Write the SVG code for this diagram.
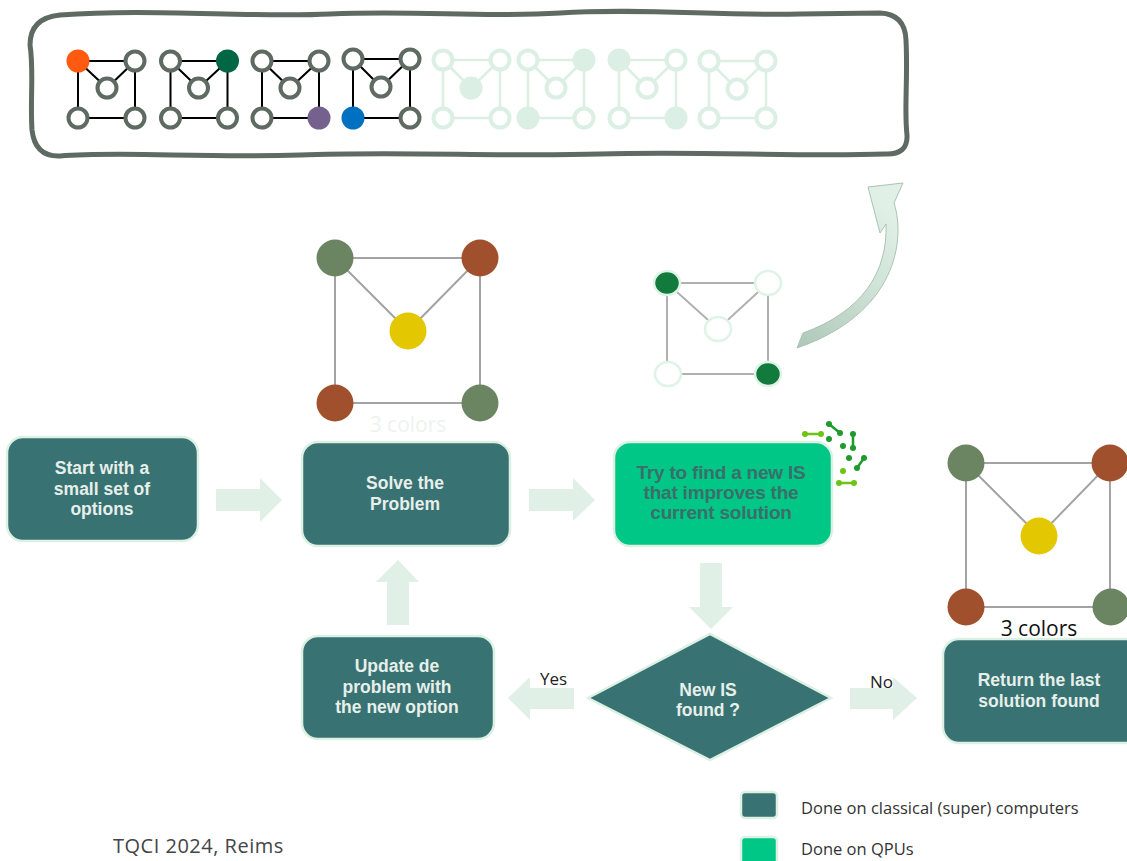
<svg xmlns="http://www.w3.org/2000/svg" width="1127" height="861" viewBox="0 0 1127 861">
<defs>
<style>
.box{fill:#387272;stroke:#dcf1e4;stroke-width:2.5}
.qbox{fill:#00c785;stroke:#dcf1e4;stroke-width:2.5}
.btxt{font-family:"Liberation Sans",Arial,sans-serif;font-weight:bold;font-size:17.5px;fill:#e6efea;text-anchor:middle}
.qtxt{font-family:"Liberation Sans",Arial,sans-serif;font-weight:bold;font-size:19px;fill:#3a6f6c;text-anchor:middle;letter-spacing:-0.2px}
.lbl{font-family:"Open Sans","Liberation Sans",sans-serif;font-size:17px;fill:#222}
.leg{font-family:"Open Sans","Liberation Sans",sans-serif;font-size:16.5px;fill:#333}
.barrow{fill:#e0f0e7}
.se{stroke:#000;stroke-width:2;fill:none}
.sn{fill:#fff;stroke:#5e6a62;stroke-width:4}
.fe{stroke:#dcefe4;stroke-width:2.5;fill:none}
.fn{fill:#fff;stroke:#dcefe4;stroke-width:4}
.ff{fill:#dcefe4;stroke:#dcefe4;stroke-width:4}
.be{stroke:#a3a3a3;stroke-width:2;fill:none}
.gr{fill:#6b8462}
.br{fill:#a0502c}
.ye{fill:#e3c700}
.qe{stroke:#b0b0b0;stroke-width:2;fill:none}
.qw{fill:#fff;stroke:#dff3e7;stroke-width:2.5}
.qg{fill:#127a3c;stroke:#dff3e7;stroke-width:2.5}
.ic1{stroke:#6cc417;stroke-width:2.5;fill:none}
.ic2{stroke:#1e9a2e;stroke-width:2.5;fill:none}
.d1{fill:#6cc417}
.d2{fill:#1e9a2e}
</style>
<linearGradient id="cg" x1="0" y1="1" x2="0.6" y2="0">
<stop offset="0" stop-color="#aec7b8"/>
<stop offset="0.6" stop-color="#cfe3d6"/>
<stop offset="1" stop-color="#e0f0e6"/>
</linearGradient>
</defs>

<g id="banner">
<path d="M60,15 C150,8 250,18 330,14 C420,10 480,18 560,13 C640,8 720,16 800,14 L880,13 Q905,14 906,40 C908,80 904,110 907,135 Q908,155 885,154 C800,157 700,151 600,154 C500,157 400,151 300,155 C200,158 120,151 60,156 Q35,157 32,130 C30,100 34,70 30,45 Q30,18 60,15 Z" fill="#fff" stroke="#5e6a62" stroke-width="5"/>
</g>

<g id="mini-graph-1" transform="translate(78,61)">
<path class="se" d="M0,0 H57 V57 H0 Z M0,0 L29,27 L57,0"/>
<circle cx="0" cy="0" r="11.5" fill="#ff5a0f"/>
<circle class="sn" cx="57" cy="0" r="9.5"/>
<circle class="sn" cx="29" cy="27" r="9.5"/>
<circle class="sn" cx="0" cy="57" r="9.5"/>
<circle class="sn" cx="57" cy="57" r="9.5"/>
</g>
<g id="mini-graph-2" transform="translate(170.5,61)">
<path class="se" d="M0,0 H57 V57 H0 Z M0,0 L28,27 L57,0"/>
<circle class="sn" cx="0" cy="0" r="9.5"/>
<circle cx="57" cy="0" r="11.5" fill="#006643"/>
<circle class="sn" cx="28" cy="27" r="9.5"/>
<circle class="sn" cx="0" cy="57" r="9.5"/>
<circle class="sn" cx="57" cy="57" r="9.5"/>
</g>
<g id="mini-graph-3" transform="translate(262,61)">
<path class="se" d="M0,0 H57 V57 H0 Z M0,0 L28,27 L57,0"/>
<circle class="sn" cx="0" cy="0" r="9.5"/>
<circle class="sn" cx="57" cy="0" r="9.5"/>
<circle class="sn" cx="28" cy="27" r="9.5"/>
<circle class="sn" cx="0" cy="57" r="9.5"/>
<circle cx="57" cy="57" r="11.5" fill="#74618e"/>
</g>
<g id="mini-graph-4" transform="translate(353,59)">
<path class="se" d="M0,0 H57 V59 H0 Z M0,0 L28,28 L57,0"/>
<circle class="sn" cx="0" cy="0" r="9.5"/>
<circle class="sn" cx="57" cy="0" r="9.5"/>
<circle class="sn" cx="28" cy="28" r="9.5"/>
<circle cx="0" cy="59" r="11.5" fill="#0070c0"/>
<circle class="sn" cx="57" cy="59" r="9.5"/>
</g>
<g id="mini-graph-5" transform="translate(443,60)">
<path class="fe" d="M0,0 H57 V58 H0 Z M0,0 L28,28 L57,0"/>
<circle class="fn" cx="0" cy="0" r="9.5"/>
<circle class="fn" cx="57" cy="0" r="9.5"/>
<circle class="ff" cx="28" cy="28" r="9.5"/>
<circle class="fn" cx="0" cy="58" r="9.5"/>
<circle class="fn" cx="57" cy="58" r="9.5"/>
</g>
<g id="mini-graph-6" transform="translate(528,60)">
<path class="fe" d="M0,0 H56 V58 H0 Z M0,0 L28,28 L56,0"/>
<circle class="fn" cx="0" cy="0" r="9.5"/>
<circle class="ff" cx="56" cy="0" r="9.5"/>
<circle class="fn" cx="28" cy="28" r="9.5"/>
<circle class="ff" cx="0" cy="58" r="9.5"/>
<circle class="fn" cx="56" cy="58" r="9.5"/>
</g>
<g id="mini-graph-7" transform="translate(619,60)">
<path class="fe" d="M0,0 H57 V58 H0 Z M0,0 L28,28 L57,0"/>
<circle class="ff" cx="0" cy="0" r="9.5"/>
<circle class="fn" cx="57" cy="0" r="9.5"/>
<circle class="fn" cx="28" cy="28" r="9.5"/>
<circle class="fn" cx="0" cy="58" r="9.5"/>
<circle class="ff" cx="57" cy="58" r="9.5"/>
</g>
<g id="mini-graph-8" transform="translate(709,61)">
<path class="fe" d="M0,0 H57 V57 H0 Z M0,0 L28,28 L57,0"/>
<circle class="fn" cx="0" cy="0" r="9.5"/>
<circle class="fn" cx="57" cy="0" r="9.5"/>
<circle class="fn" cx="28" cy="28" r="9.5"/>
<circle class="fn" cx="0" cy="57" r="9.5"/>
<circle class="fn" cx="57" cy="57" r="9.5"/>
</g>

<g id="graph-solve">
<path class="be" d="M335,258 H480 V403 H335 Z M335,258 L408,331 L480,258"/>
<circle class="gr" cx="335" cy="258" r="18.5"/>
<circle class="br" cx="480" cy="258" r="18.5"/>
<circle class="ye" cx="408" cy="331" r="18.5"/>
<circle class="br" cx="335" cy="403" r="18.5"/>
<circle class="gr" cx="480" cy="403" r="18.5"/>
<text x="408" y="432" font-family="'Open Sans','Liberation Sans',sans-serif" font-size="21" fill="#eef2ef" text-anchor="middle">3 colors</text>
</g>

<g id="graph-qpu">
<path class="qe" d="M667,283 H768 V374 H667 Z M667,283 L718,329 L768,283"/>
<ellipse class="qg" cx="667" cy="283" rx="13" ry="12"/>
<ellipse class="qw" cx="768" cy="283" rx="13" ry="12"/>
<ellipse class="qw" cx="718" cy="329" rx="13" ry="12"/>
<ellipse class="qw" cx="668" cy="374" rx="13" ry="12"/>
<ellipse class="qg" cx="768" cy="374" rx="13" ry="12"/>
</g>

<g id="graph-final">
<path class="be" d="M966,463 H1110 V607 H966 Z M966,463 L1039,536 L1110,463"/>
<circle class="gr" cx="966" cy="463" r="18.5"/>
<circle class="br" cx="1110" cy="463" r="18.5"/>
<circle class="ye" cx="1039" cy="536" r="18.5"/>
<circle class="br" cx="966" cy="607" r="18.5"/>
<circle class="gr" cx="1111" cy="607" r="18.5"/>
<text x="1039" y="636" font-family="'Open Sans','Liberation Sans',sans-serif" font-size="21" fill="#111" text-anchor="middle">3 colors</text>
</g>

<g id="connectors">
<polygon class="barrow" points="216,489 260,489 260,478 282,500 260,522 260,511 216,511"/>
<polygon class="barrow" points="529,489 573,489 573,478 595,500 573,521 573,511 529,511"/>
<polygon class="barrow" points="700,563 722,563 722,607 733,607 711,629 689,607 700,607"/>
<polygon class="barrow" points="574,688 530,688 530,677 508,698 530,720 530,709 574,709"/>
<polygon class="barrow" points="850,688 893,688 893,677 917,698 893,720 893,709 850,709"/>
<polygon class="barrow" points="387,625 409,625 409,582 419,582 398,560 376,582 387,582"/>
<path d="M868,187 L903,183 L894,203 C906,240 896,314 797,348 L803,333 C862,312 888,272 886,224 L880,233 Z" fill="url(#cg)" stroke="#a9c3b3" stroke-width="1"/>
<text class="lbl" x="540" y="685">Yes</text>
<text class="lbl" x="870" y="688">No</text>
</g>

<g id="node-start">
<rect class="box" x="7" y="437" width="191" height="104" rx="16"/>
<text class="btxt" x="102" y="474">Start with a</text>
<text class="btxt" x="102" y="495">small set of</text>
<text class="btxt" x="102" y="515">options</text>
</g>
<g id="node-solve">
<rect class="box" x="302" y="442" width="208" height="104" rx="16"/>
<text class="btxt" x="405" y="489">Solve the</text>
<text class="btxt" x="405" y="510">Problem</text>
</g>
<g id="node-qpu">
<rect class="qbox" x="614" y="442" width="218" height="104" rx="16"/>
<text class="qtxt" x="721" y="479">Try to find a new IS</text>
<text class="qtxt" x="721" y="499">that improves the</text>
<text class="qtxt" x="721" y="519">current solution</text>
<g id="qpu-icon">
<path class="ic1" d="M805,434 H821 M839,483 H854"/>
<path class="ic2" d="M829,424 L840,433 M853,434 V448 M864,458 L857,468"/>
<circle class="d1" cx="805" cy="434" r="3"/><circle class="d1" cx="821" cy="434" r="3"/>
<circle class="d1" cx="839" cy="483" r="3"/><circle class="d1" cx="854" cy="483" r="3"/>
<circle class="d2" cx="829" cy="424" r="3"/><circle class="d2" cx="840" cy="433" r="3"/>
<circle class="d2" cx="853" cy="434" r="3"/><circle class="d2" cx="853" cy="448" r="3"/>
<circle class="d2" cx="864" cy="458" r="3"/><circle class="d2" cx="857" cy="468" r="3"/>
<circle class="d2" cx="829" cy="439" r="3"/><circle class="d2" cx="843" cy="446" r="3"/>
<circle class="d2" cx="849" cy="458" r="3"/><circle class="d1" cx="843" cy="471" r="3"/>
</g>
</g>
<g id="node-decision">
<polygon class="box" points="588,698 710,634 831,698 710,760"/>
<text class="btxt" x="708" y="696">New IS</text>
<text class="btxt" x="708" y="716">found ?</text>
</g>
<g id="node-update">
<rect class="box" x="302" y="636" width="192" height="103" rx="16"/>
<text class="btxt" x="397" y="672">Update de</text>
<text class="btxt" x="397" y="693">problem with</text>
<text class="btxt" x="397" y="713">the new option</text>
</g>
<g id="node-return">
<rect class="box" x="943" y="639" width="200" height="104" rx="16"/>
<text class="btxt" x="1039" y="686">Return the last</text>
<text class="btxt" x="1039" y="707">solution found</text>
</g>

<g id="legend">
<rect class="box" x="741" y="792" width="36" height="26" rx="4"/>
<text class="leg" x="801" y="814">Done on classical (super) computers</text>
<rect class="qbox" x="741" y="837" width="36" height="30" rx="4"/>
<text class="leg" x="801" y="855">Done on QPUs</text>
</g>

<text x="113" y="853" font-family="'Open Sans','Liberation Sans',sans-serif" font-size="20" letter-spacing="0.5" fill="#444">TQCI 2024, Reims</text>
</svg>
